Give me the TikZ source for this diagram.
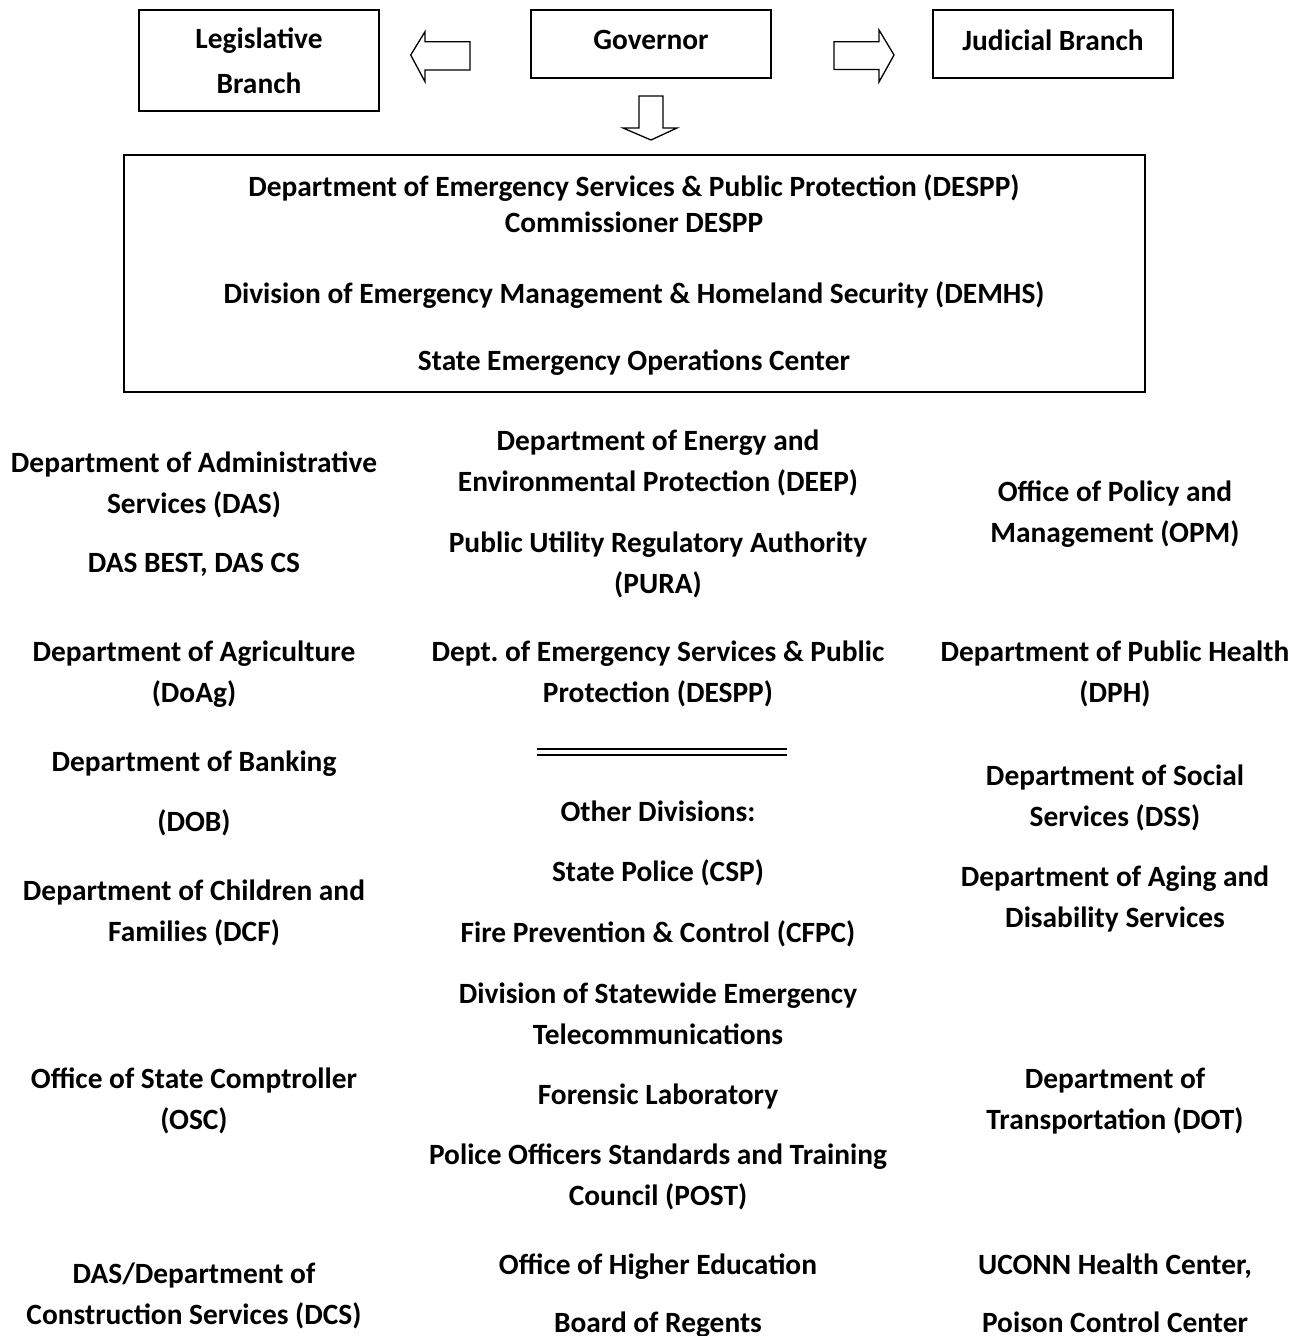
\documentclass[tikz,border=0pt]{standalone}
\usepackage{fontspec}
\setmainfont{Carlito}
\usetikzlibrary{positioning}
\begin{document}
\begin{tikzpicture}[x=1pt,y=-1pt,
  every node/.style={font=\fontsize{29.4}{41}\selectfont\bfseries,align=center,inner sep=0pt},
  box/.style={draw,line width=2pt},
  org/.style={anchor=base},
  blockarrow/.style={draw,line width=1.3pt,line join=miter}]
  \useasboundingbox (0,0) rectangle (1299,1336);
  \def\xl{194}
  \def\xm{658}
  \def\xr{1115}
  % top row
  \node[box,minimum width=240,minimum height=101] (leg) at (259,60.5) {Legislative\\[4pt]Branch};
  \node[box,minimum width=240,minimum height=68,text depth=8pt] (gov) at (651,44) {Governor};
  \node[box,minimum width=240,minimum height=68,text depth=8pt] (jud) at (1053,44) {Judicial Branch};
  \draw[blockarrow] (470,41.7)--(425,41.7)--(425,31.7)--(410.7,55)--(425,81.7)--(425,70)--(470,70)--cycle;
  \draw[blockarrow] (834,41.7)--(879,41.7)--(879,30)--(894,55)--(879,82)--(879,69.5)--(834,69.5)--cycle;
  \draw[blockarrow] (639,96)--(663,96)--(663,128)--(677,128)--(651,140)--(623,128)--(639,128)--cycle;
  % despp box
  \node[box,minimum width=1021,minimum height=237] (despp) at (634.5,273.5) {};
  \node[org] (desppname) at (634,196) {Department of Emergency Services \& Public Protection (DESPP)};
  \node[org] (comm) at (634,232) {Commissioner DESPP};
  \node[org] (demhs) at (634,303) {Division of Emergency Management \& Homeland Security (DEMHS)};
  \node[org] (seoc) at (634,370) {State Emergency Operations Center};
  % left column
  \node[org] (das) at (\xl,513) {Department of Administrative\\Services (DAS)};
  \node[org] (dasbest) at (\xl,572) {DAS BEST, DAS CS};
  \node[org] (doag) at (\xl,702) {Department of Agriculture\\(DoAg)};
  \node[org] (dob) at (\xl,771) {Department of Banking};
  \node[org] (dobabbr) at (\xl,831) {(DOB)};
  \node[org] (dcf) at (\xl,941) {Department of Children and\\Families (DCF)};
  \node[org] (osc) at (\xl,1129) {Office of State Comptroller\\(OSC)};
  \node[org] (dcs) at (\xl,1324) {DAS/Department of\\Construction Services (DCS)};
  % middle column
  \node[org] (deep) at (\xm,491) {Department of Energy and\\Environmental Protection (DEEP)};
  \node[org] (pura) at (\xm,593) {Public Utility Regulatory Authority\\(PURA)};
  \node[org] (despp2) at (\xm,702) {Dept.\ of Emergency Services \& Public\\Protection (DESPP)};
  \coordinate (sepa) at (537,749);
  \coordinate (sepb) at (787,749);
  \draw[line width=2pt] (sepa)--(sepb);
  \draw[line width=2pt] ([yshift=-5.5pt]sepa)--([yshift=-5.5pt]sepb);
  \node[org] (other) at (\xm,821) {Other Divisions:};
  \node[org] (csp) at (\xm,881) {State Police (CSP)};
  \node[org] (cfpc) at (\xm,942) {Fire Prevention \& Control (CFPC)};
  \node[org] (dset) at (\xm,1044) {Division of Statewide Emergency\\Telecommunications};
  \node[org] (lab) at (\xm,1104) {Forensic Laboratory};
  \node[org] (post) at (\xm,1205) {Police Officers Standards and Training\\Council (POST)};
  \node[org] (ohe) at (\xm,1274) {Office of Higher Education};
  \node[org] (bor) at (\xm,1332) {Board of Regents};
  % right column
  \node[org] (opm) at (\xr,542) {Office of Policy and\\Management (OPM)};
  \node[org] (dph) at (\xr,702) {Department of Public Health\\(DPH)};
  \node[org] (dss) at (\xr,826) {Department of Social\\Services (DSS)};
  \node[org] (ads) at (\xr,927) {Department of Aging and\\Disability Services};
  \node[org] (dot) at (\xr,1129) {Department of\\Transportation (DOT)};
  \node[org] (uchc) at (\xr,1274) {UCONN Health Center,};
  \node[org] (poison) at (\xr,1332) {Poison Control Center};
\end{tikzpicture}
\end{document}
